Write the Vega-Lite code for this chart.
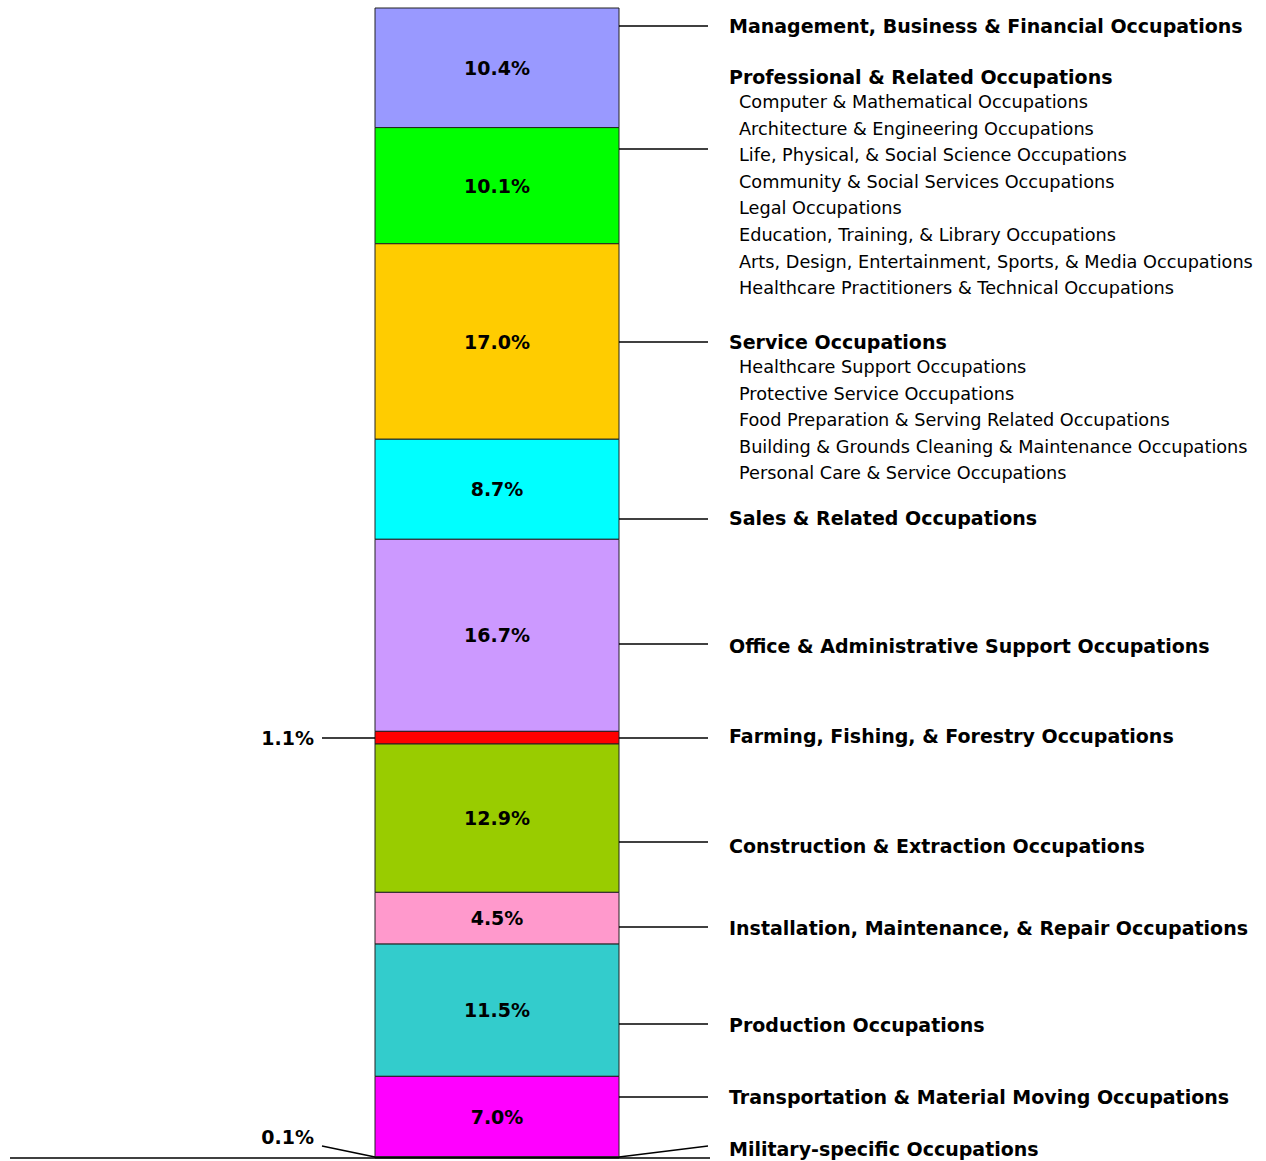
{
  "$schema": "https://vega.github.io/schema/vega-lite/v6.json",
  "width": 1266,
  "height": 1161,
  "padding": 0,
  "autosize": "none",
  "background": "white",
  "config": {"view": {"stroke": null}, "font": "DejaVu Sans"},
  "datasets": {
    "groups": [
      {"order": 1, "name": "Management, Business & Financial Occupations", "pct": 10.4, "anchor": 98.43, "lead": 98.43, "label_at": 98.43},
      {"order": 2, "name": "Professional & Related Occupations", "pct": 10.1, "anchor": 87.74, "lead": 87.74, "label_at": 94.0,
       "sub": ["Computer & Mathematical Occupations", "Architecture & Engineering Occupations", "Life, Physical, & Social Science Occupations", "Community & Social Services Occupations", "Legal Occupations", "Education, Training, & Library Occupations", "Arts, Design, Entertainment, Sports, & Media Occupations", "Healthcare Practitioners & Technical Occupations"]},
      {"order": 3, "name": "Service Occupations", "pct": 17.0, "anchor": 70.96, "lead": 70.96, "label_at": 70.96,
       "sub": ["Healthcare Support Occupations", "Protective Service Occupations", "Food Preparation & Serving Related Occupations", "Building & Grounds Cleaning & Maintenance Occupations", "Personal Care & Service Occupations"]},
      {"order": 4, "name": "Sales & Related Occupations", "pct": 8.7, "anchor": 55.57, "lead": 55.57, "label_at": 55.65},
      {"order": 5, "name": "Office & Administrative Support Occupations", "pct": 16.7, "anchor": 44.7, "lead": 44.7, "label_at": 44.52},
      {"order": 6, "name": "Farming, Fishing, & Forestry Occupations", "pct": 1.1, "anchor": 36.52, "lead": 36.52, "label_at": 36.7, "left_at": 36.52},
      {"order": 7, "name": "Construction & Extraction Occupations", "pct": 12.9, "anchor": 27.48, "lead": 27.48, "label_at": 27.13},
      {"order": 8, "name": "Installation, Maintenance, & Repair Occupations", "pct": 4.5, "anchor": 20.09, "lead": 20.09, "label_at": 20.0},
      {"order": 9, "name": "Production Occupations", "pct": 11.5, "anchor": 11.65, "lead": 11.65, "label_at": 11.57},
      {"order": 10, "name": "Transportation & Material Moving Occupations", "pct": 7.0, "anchor": 5.3, "lead": 5.3, "label_at": 5.3},
      {"order": 11, "name": "Military-specific Occupations", "pct": 0.1, "anchor": 0.09, "lead": 1.04, "label_at": 0.78, "left_at": 1.83}
    ]
  },
  "layer": [
    {
      "data": {"name": "groups"},
      "transform": [
        {"stack": "pct", "groupby": [], "sort": [{"field": "order", "order": "descending"}], "as": ["lo", "hi"]},
        {"calculate": "(datum.lo + datum.hi) / 2", "as": "mid"},
        {"calculate": "format(datum.pct, '.1f') + '%'", "as": "plabel"}
      ],
      "layer": [
        {
          "mark": {"type": "bar", "stroke": "#222222", "strokeWidth": 1},
          "encoding": {
            "x": {"datum": 375, "type": "quantitative", "scale": {"domain": [0, 1266], "range": [0, 1266], "nice": false, "zero": false}, "axis": null},
            "x2": {"datum": 619},
            "y": {"field": "lo", "type": "quantitative", "scale": {"domain": [0, 100], "range": [1158, 8], "nice": false}, "axis": null},
            "y2": {"field": "hi"},
            "color": {
              "field": "name", "type": "nominal", "legend": null,
              "scale": {
                "domain": ["Management, Business & Financial Occupations", "Professional & Related Occupations", "Service Occupations", "Sales & Related Occupations", "Office & Administrative Support Occupations", "Farming, Fishing, & Forestry Occupations", "Construction & Extraction Occupations", "Installation, Maintenance, & Repair Occupations", "Production Occupations", "Transportation & Material Moving Occupations", "Military-specific Occupations"],
                "range": ["#9999FF", "#00FF00", "#FFCC00", "#00FFFF", "#CC99FF", "#FF0000", "#99CC00", "#FF99CC", "#33CCCC", "#FF00FF", "#000000"]
              }
            }
          }
        },
        {
          "transform": [{"filter": "datum.pct >= 2"}],
          "mark": {"type": "text", "fontWeight": "bold", "fontSize": 19, "align": "center", "baseline": "middle", "dy": 1, "color": "#000000"},
          "encoding": {
            "x": {"datum": 497, "type": "quantitative"},
            "y": {"field": "mid", "type": "quantitative"},
            "text": {"field": "plabel"}
          }
        },
        {
          "mark": {"type": "rule", "color": "#000000", "strokeWidth": 1.5},
          "encoding": {
            "x": {"datum": 619, "type": "quantitative"},
            "x2": {"datum": 708},
            "y": {"field": "anchor", "type": "quantitative"},
            "y2": {"field": "lead"}
          }
        },
        {
          "mark": {"type": "text", "fontWeight": "bold", "fontSize": 19, "align": "left", "baseline": "middle", "dy": 1, "color": "#000000"},
          "encoding": {
            "x": {"datum": 729, "type": "quantitative"},
            "y": {"field": "label_at", "type": "quantitative"},
            "text": {"field": "name"}
          }
        },
        {
          "transform": [{"filter": "isValid(datum.sub)"}],
          "mark": {"type": "text", "fontSize": 17.7, "align": "left", "baseline": "top", "dy": 17, "lineHeight": 26.6, "color": "#000000"},
          "encoding": {
            "x": {"datum": 739, "type": "quantitative"},
            "y": {"field": "label_at", "type": "quantitative"},
            "text": {"field": "sub"}
          }
        },
        {
          "transform": [{"filter": "datum.pct < 2"}],
          "mark": {"type": "text", "fontWeight": "bold", "fontSize": 19, "align": "right", "baseline": "middle", "dy": 1, "color": "#000000"},
          "encoding": {
            "x": {"datum": 314, "type": "quantitative"},
            "y": {"field": "left_at", "type": "quantitative"},
            "text": {"field": "plabel"}
          }
        },
        {
          "transform": [{"filter": "datum.pct < 2"}],
          "mark": {"type": "rule", "color": "#000000", "strokeWidth": 1.5},
          "encoding": {
            "x": {"datum": 322, "type": "quantitative"},
            "x2": {"datum": 375},
            "y": {"field": "lead", "type": "quantitative"},
            "y2": {"field": "anchor"}
          }
        }
      ]
    },
    {
      "data": {"values": [{}]},
      "mark": {"type": "rule", "color": "#000000", "strokeWidth": 1.5},
      "encoding": {
        "x": {"datum": 10, "type": "quantitative"},
        "x2": {"datum": 710},
        "y": {"datum": 0, "type": "quantitative"}
      }
    }
  ]
}
